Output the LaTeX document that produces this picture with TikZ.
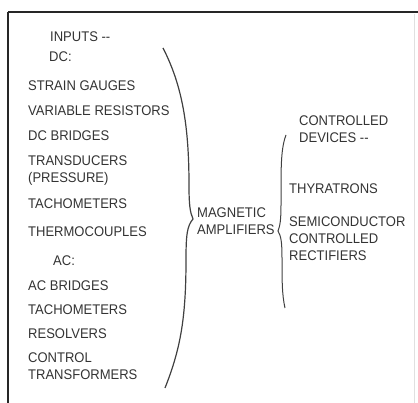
\documentclass[tikz,border=0pt]{standalone}
\usepackage{fontspec}
\setmainfont{Liberation Sans}[FakeStretch=0.93]
\usepackage{tikz}
\usetikzlibrary{positioning}

\begin{document}
\begin{tikzpicture}[
x=1pt, y=-1pt,
every node/.style={anchor=base west, inner sep=0pt, align=left, text=black!80,
  font=\fontsize{14}{17}\selectfont},
brace/.style={line width=1pt, black!75},
frame/.style={line width=1.4pt, black!85}
]

\useasboundingbox (0,0) rectangle (418,403);

\draw[frame] (8,12) -- (418,12);
\draw[frame] (8,12) -- (8,403);
\draw[black!12, line width=0.6pt] (414,14) -- (414,403);

% base of a node with several lines = base of its last line
\node (inputs) at (50,42) {INPUTS -{}-};
\node (dc) at (49,62) {DC:};
\node (strain) at (28,91) {STRAIN GAUGES};
\node (varres) at (28,116) {VARIABLE RESISTORS};
\node (dcbridges) at (28,141) {DC BRIDGES};
\node (transd) at (28,183) {TRANSDUCERS\\(PRESSURE)};
\node (tachodc) at (28,209) {TACHOMETERS};
\node (thermo) at (28,237) {THERMOCOUPLES};
\node (ac) at (53,266) {AC:};
\node (acbridges) at (28,291) {AC BRIDGES};
\node (tachoac) at (28,315) {TACHOMETERS};
\node (resolvers) at (28,339) {RESOLVERS};
\node (ctrltr) at (28,380) {CONTROL\\TRANSFORMERS};

\node (magamp) at (197,235) {MAGNETIC\\AMPLIFIERS};

\node (devices) at (299,143) {CONTROLLED\\DEVICES -{}-};
\node (thyra) at (289,194) {THYRATRONS};
\node (scr) at (289,261) {SEMICONDUCTOR\\CONTROLLED\\RECTIFIERS};

\draw[brace, line width=1.2pt] (163,48) .. controls (182,85) and (189,125) .. (189,185)
  .. controls (189,205) and (190,212) .. (193,219)
  .. controls (187,226) and (186,235) .. (186,260)
  .. controls (186,320) and (180,350) .. (165,388);

\draw[brace] (286,135) .. controls (282,145) and (281,160) .. (281,185)
  -- (281,205) .. controls (281,220) and (280,226) .. (278,231)
  .. controls (281,236) and (282,242) .. (282,258)
  .. controls (282,280) and (282,295) .. (285,308);

\end{tikzpicture}
\end{document}
